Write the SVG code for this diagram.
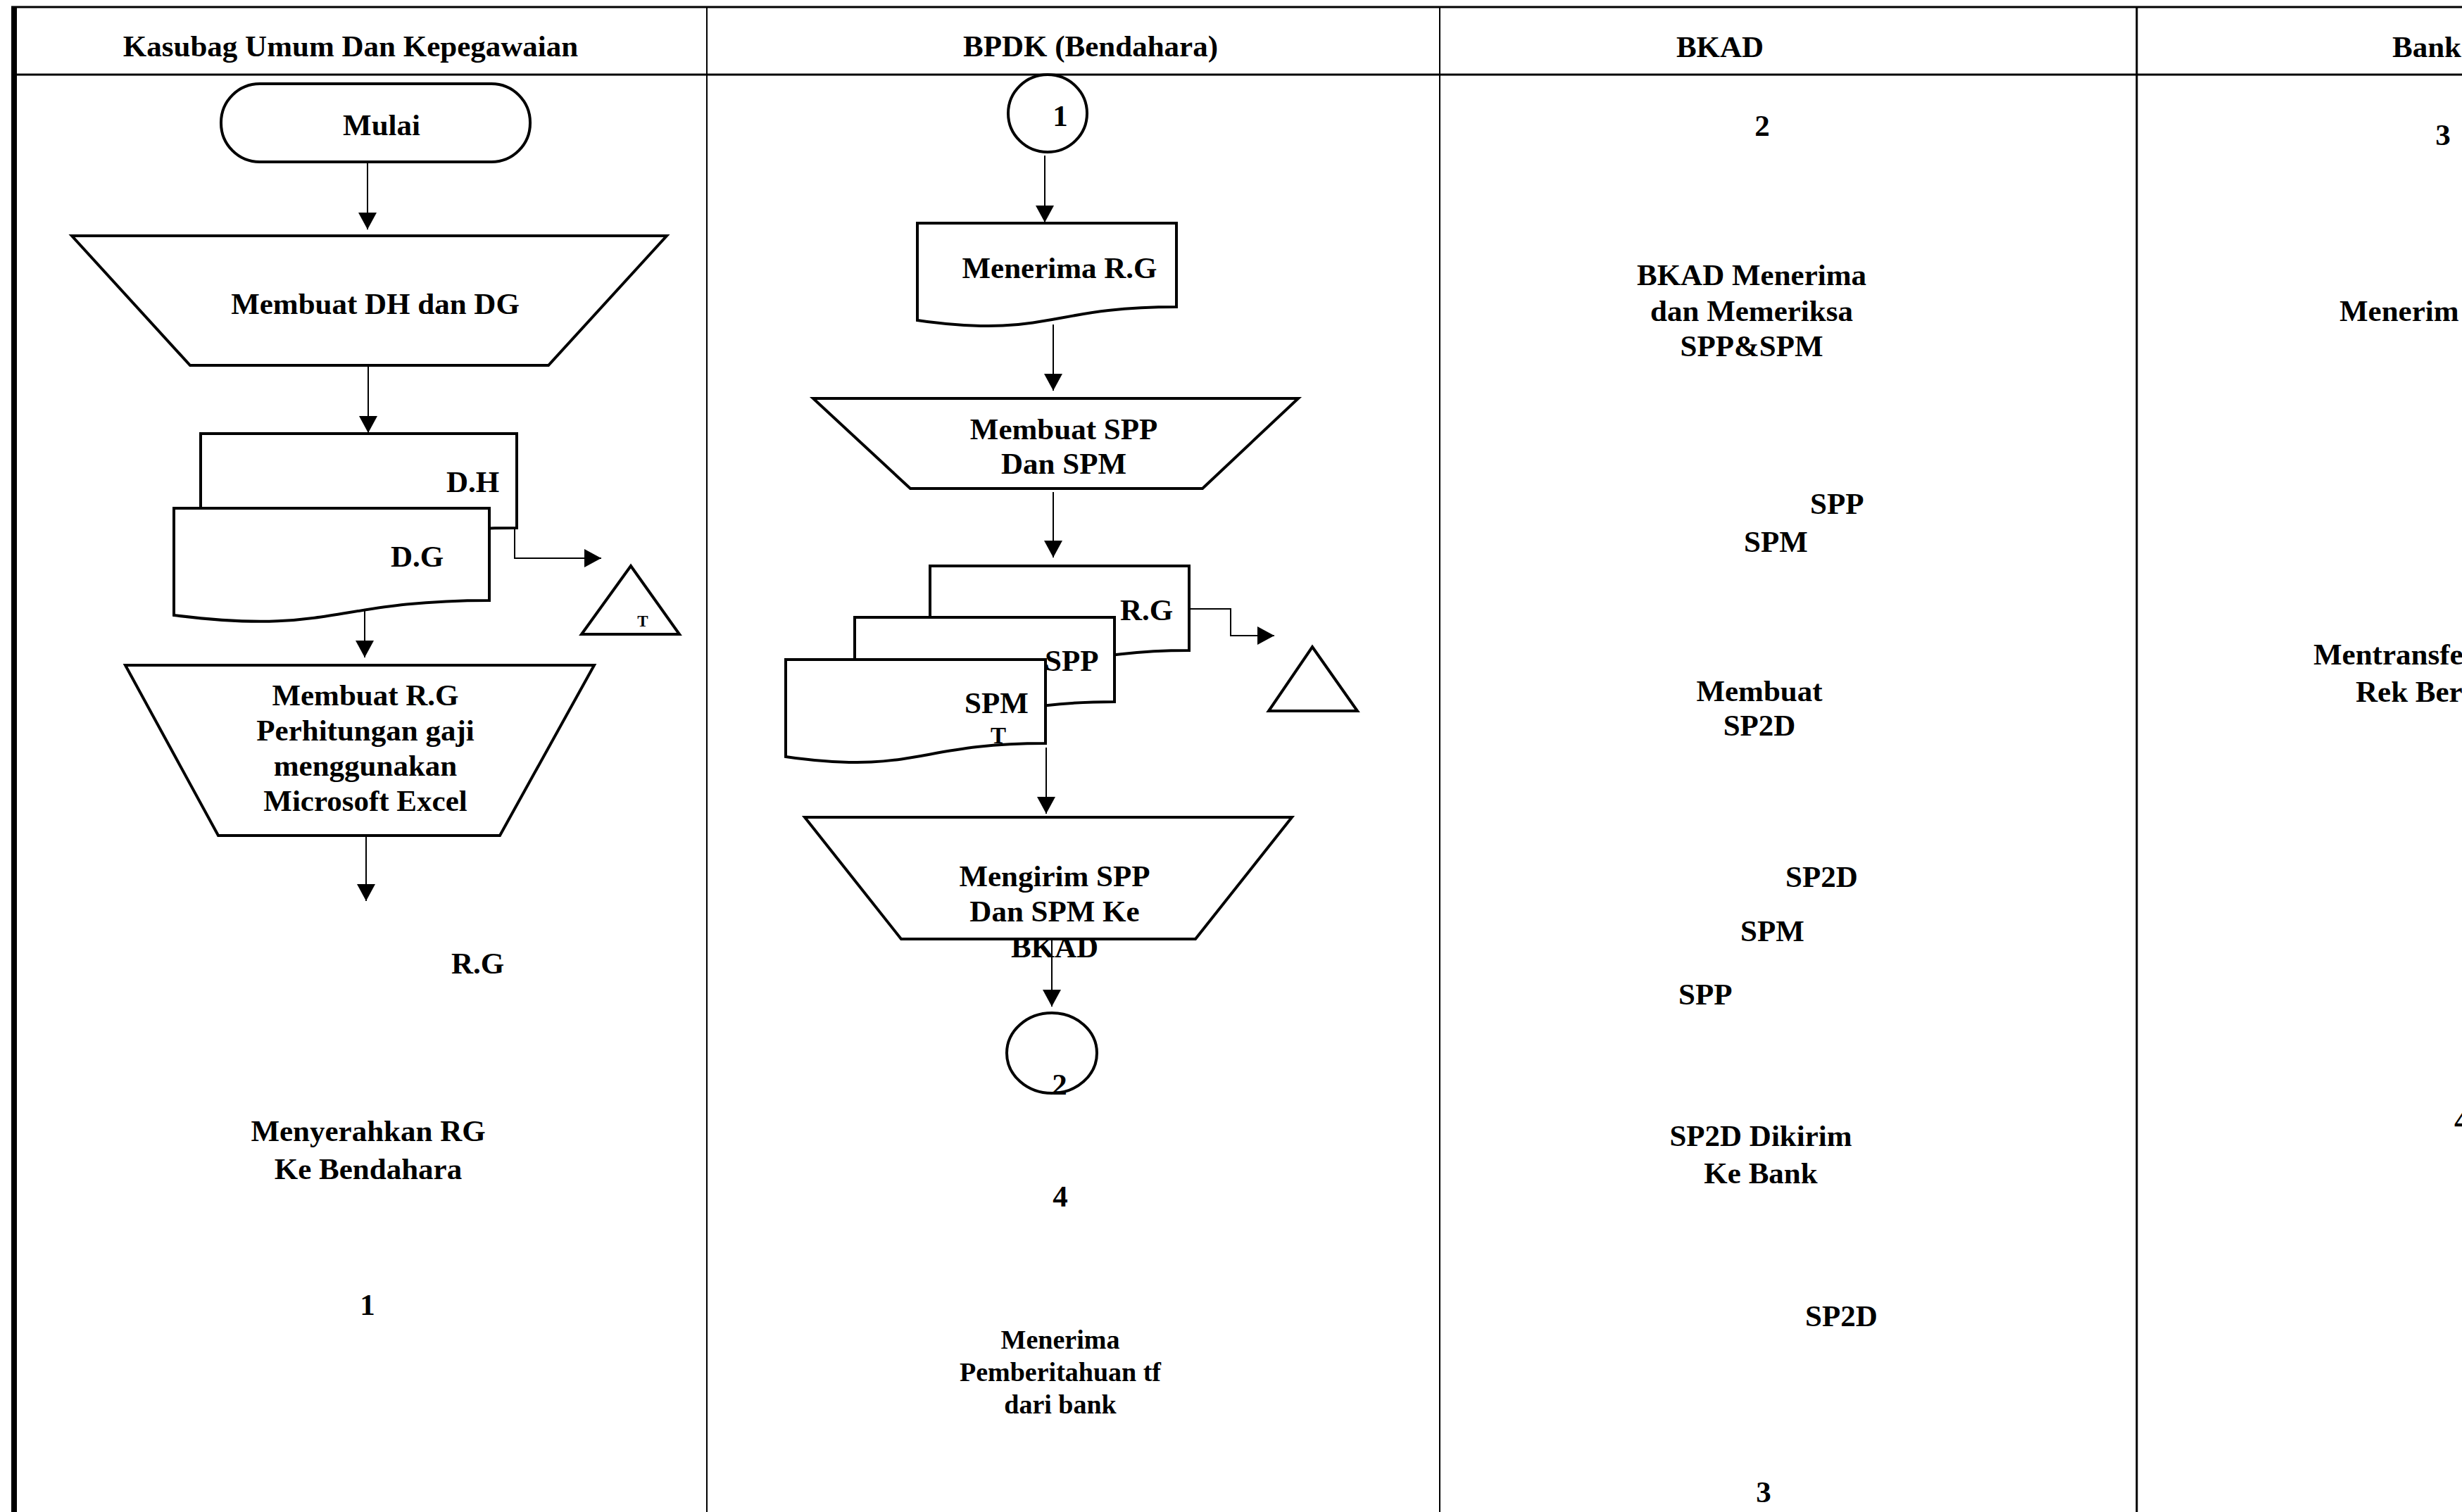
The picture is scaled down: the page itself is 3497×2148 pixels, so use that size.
<svg xmlns="http://www.w3.org/2000/svg" width="3497" height="2148" viewBox="0 0 3497 2148">
<style>
text{font-family:"Liberation Serif","Times New Roman",serif;font-weight:bold;font-size:43px;fill:#000}
.c{text-anchor:middle}
.s{font-size:38px}
.shape{fill:#fff;stroke:#000;stroke-width:4;stroke-linejoin:miter}
.conn{fill:none;stroke:#000;stroke-width:2}
.frame{stroke:#000;fill:none}
</style>
<defs>
<marker id="ah" markerWidth="26" markerHeight="26" refX="24" refY="13" orient="auto" markerUnits="userSpaceOnUse">
<path d="M0,0 L24,13 L0,26 Z" fill="#000"/>
</marker>
</defs>
<rect width="3497" height="2148" fill="#fff"/>
<g id="frame">
<line class="frame" x1="16" y1="10" x2="3497" y2="10" stroke-width="3"/>
<line class="frame" x1="16" y1="106" x2="3497" y2="106" stroke-width="3"/>
<line class="frame" x1="1004" y1="10" x2="1004" y2="2148" stroke-width="2"/>
<line class="frame" x1="2045" y1="10" x2="2045" y2="2148" stroke-width="2"/>
<line class="frame" x1="3035" y1="10" x2="3035" y2="2148" stroke-width="3"/>
<rect x="16" y="9" width="8" height="2139" fill="#000"/>
<text class="c" x="498" y="80">Kasubag Umum Dan Kepegawaian</text>
<text class="c" x="1549" y="80">BPDK (Bendahara)</text>
<text class="c" x="2443" y="81">BKAD</text>
<text x="3398" y="81">Bank</text>
</g>
<g id="connectors">
<line class="conn" x1="522" y1="230" x2="522" y2="326" marker-end="url(#ah)"/>
<line class="conn" x1="523" y1="519" x2="523" y2="615" marker-end="url(#ah)"/>
<polyline class="conn" points="731,750 731,793 854,793" marker-end="url(#ah)"/>
<line class="conn" x1="518" y1="868" x2="518" y2="934" marker-end="url(#ah)"/>
<line class="conn" x1="520" y1="1187" x2="520" y2="1280" marker-end="url(#ah)"/>
<line class="conn" x1="1484" y1="221" x2="1484" y2="316" marker-end="url(#ah)"/>
<line class="conn" x1="1496" y1="461" x2="1496" y2="555" marker-end="url(#ah)"/>
<line class="conn" x1="1496" y1="699" x2="1496" y2="792" marker-end="url(#ah)"/>
<polyline class="conn" points="1687,865 1748,865 1748,903 1810,903" marker-end="url(#ah)"/>
<line class="conn" x1="1486" y1="1062" x2="1486" y2="1156" marker-end="url(#ah)"/>
<line class="conn" x1="1494" y1="1334" x2="1494" y2="1430" marker-end="url(#ah)"/>
</g>
<g id="mulai">
<rect class="shape" x="314" y="119" width="439" height="111" rx="55" ry="55"/>
<text class="c" x="542" y="192">Mulai</text>
</g>
<g id="membuat-dh-dg">
<polygon class="shape" points="102,335 947,335 779,519 270,519"/>
<text class="c" x="533" y="446">Membuat DH dan DG</text>
</g>
<g id="doc-dh">
<path class="shape" d="M285,616 H734 V750 C509.5,750 509.5,801 285,772 Z"/>
<text x="634" y="699">D.H</text>
</g>
<g id="doc-dg">
<path class="shape" d="M247,722 H695 V853 C471,853 471,902.6 247,874 Z"/>
<text x="555" y="805">D.G</text>
</g>
<g id="arsip-1">
<polygon class="shape" points="896,804 965,901 826,901" stroke-width="3"/>
<text class="c" x="913" y="890" style="font-size:23px">T</text>
</g>
<g id="membuat-rg">
<polygon class="shape" points="178,945 844,945 710,1187 310,1187"/>
<text class="c" x="519" y="1002">Membuat R.G</text>
<text class="c" x="519" y="1052">Perhitungan gaji</text>
<text class="c" x="519" y="1102">menggunakan</text>
<text class="c" x="519" y="1152">Microsoft Excel</text>
</g>
<g id="rg-label">
<text x="641" y="1383">R.G</text>
</g>
<g id="menyerahkan">
<text class="c" x="523" y="1621">Menyerahkan RG</text>
<text class="c" x="523" y="1675">Ke Bendahara</text>
</g>
<g id="off-1">
<text class="c" x="522" y="1868">1</text>
</g>
<g id="conn-1">
<ellipse class="shape" cx="1488" cy="161" rx="56" ry="55" stroke-width="3"/>
<text class="c" x="1506" y="179">1</text>
</g>
<g id="menerima-rg">
<path class="shape" d="M1303,317 H1671 V436 C1487,436 1487,481 1303,455 Z"/>
<text class="c" x="1505" y="395">Menerima R.G</text>
</g>
<g id="membuat-spp">
<polygon class="shape" points="1155,566 1844,566 1708,694 1293,694"/>
<text class="c" x="1511" y="624">Membuat SPP</text>
<text class="c" x="1511" y="673">Dan SPM</text>
</g>
<g id="doc-rg">
<path class="shape" d="M1321,804 H1689 V924 C1505,924 1505,970 1321,944 Z"/>
<text x="1591" y="881">R.G</text>
</g>
<g id="doc-spp">
<path class="shape" d="M1214,877 H1583 V997 C1398.5,997 1398.5,1043 1214,1017 Z"/>
<text x="1484" y="953">SPP</text>
</g>
<g id="doc-spm">
<path class="shape" d="M1116,937 H1485 V1056 C1300.5,1056 1300.5,1101 1116,1075 Z"/>
<text x="1370" y="1013">SPM</text>
<text class="c" x="1418" y="1056" style="font-size:33px">T</text>
</g>
<g id="arsip-2">
<polygon class="shape" points="1864,919 1928,1010 1802,1010" stroke-width="3"/>
</g>
<g id="mengirim">
<polygon class="shape" points="1143,1161 1835,1161 1698,1334 1280,1334"/>
<text class="c" x="1498" y="1259">Mengirim SPP</text>
<text class="c" x="1498" y="1309">Dan SPM Ke</text>
<text class="c" x="1498" y="1360">BKAD</text>
</g>
<g id="conn-2">
<ellipse class="shape" cx="1494" cy="1496" rx="64" ry="57" style="fill:none"/>
<text class="c" x="1505" y="1555">2</text>
</g>
<g id="on-4">
<text class="c" x="1506" y="1714">4</text>
</g>
<g id="menerima-tf">
<text class="c s" x="1506" y="1916">Menerima</text>
<text class="c s" x="1506" y="1962">Pemberitahuan tf</text>
<text class="c s" x="1506" y="2008">dari bank</text>
</g>
<g id="bkad-2"><text class="c" x="2503" y="193">2</text></g>
<g id="bkad-menerima">
<text class="c" x="2488" y="405">BKAD Menerima</text>
<text class="c" x="2488" y="456">dan Memeriksa</text>
<text class="c" x="2488" y="506">SPP&amp;SPM</text>
</g>
<g id="bkad-docs-1">
<text x="2571" y="730">SPP</text>
<text x="2477" y="784">SPM</text>
</g>
<g id="bkad-membuat">
<text class="c" x="2499" y="996">Membuat</text>
<text class="c" x="2499" y="1045">SP2D</text>
</g>
<g id="bkad-docs-2">
<text x="2536" y="1260">SP2D</text>
<text x="2472" y="1337">SPM</text>
<text x="2384" y="1427">SPP</text>
</g>
<g id="bkad-kirim">
<text class="c" x="2501" y="1628">SP2D Dikirim</text>
<text class="c" x="2501" y="1681">Ke Bank</text>
</g>
<g id="bkad-sp2d"><text x="2564" y="1884">SP2D</text></g>
<g id="bkad-3"><text class="c" x="2505" y="2134">3</text></g>
<g id="bank-3"><text class="c" x="3470" y="206">3</text></g>
<g id="bank-menerima"><text x="3323" y="456">Menerim</text></g>
<g id="bank-transfer">
<text x="3286" y="944">Mentransfe</text>
<text x="3346" y="997">Rek Ber</text>
</g>
<g id="bank-4"><text x="3486" y="1606">4</text></g>
</svg>
